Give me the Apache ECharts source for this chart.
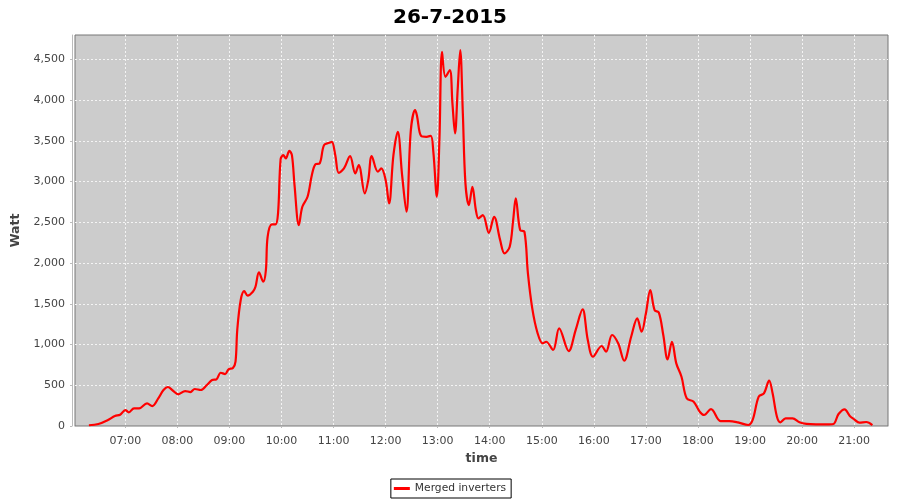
<!DOCTYPE html>
<html>
<head>
<meta charset="utf-8">
<script src="https://cdn.jsdelivr.net/npm/echarts@6/dist/echarts.min.js"></script>
<style>html,body{margin:0;padding:0;background:#fff;}#chart{width:900px;height:500px;}</style>
</head>
<body>
<div id="chart"></div>
<script>
// Reading times (HH:MM) and power (W)
const times = ["06:18","06:29","06:40","06:48","06:54","07:00","07:04","07:10","07:16","07:25","07:31","07:38","07:44","07:49","07:55","08:01","08:09","08:15","08:20","08:27","08:34","08:40","08:45","08:50","08:55","08:59","09:04","09:07","09:09","09:13","09:17","09:21","09:27","09:30","09:34","09:39","09:42","09:44","09:49","09:53","09:56","09:59","10:02","10:05","10:09","10:12","10:15","10:20","10:24","10:30","10:35","10:39","10:44","10:49","10:55","10:58","11:02","11:06","11:12","11:19","11:25","11:29","11:36","11:40","11:44","11:51","11:55","12:00","12:04","12:09","12:14","12:19","12:24","12:29","12:34","12:36","12:41","12:47","12:52","12:55","12:59","13:02","13:05","13:09","13:14","13:17","13:20","13:23","13:26","13:29","13:32","13:36","13:40","13:44","13:47","13:52","13:59","14:05","14:12","14:17","14:23","14:27","14:30","14:35","14:40","14:44","14:49","14:55","15:01","15:05","15:13","15:20","15:31","15:39","15:47","15:53","15:59","16:09","16:14","16:21","16:28","16:35","16:43","16:50","16:55","17:00","17:05","17:10","17:15","17:20","17:25","17:30","17:35","17:41","17:47","17:55","18:02","18:07","18:15","18:26","18:36","18:46","18:58","19:03","19:10","19:16","19:22","19:26","19:31","19:35","19:41","19:49","19:57","20:05","20:16","20:28","20:36","20:42","20:49","20:55","21:00","21:06","21:14","21:21"];
const watts = [9,25,74,123,139,196,168,217,217,278,245,340,442,479,433,389,429,417,454,442,503,564,573,654,638,696,712,789,1178,1546,1655,1600,1648,1709,1886,1771,1914,2323,2475,2475,2610,3276,3325,3285,3378,3325,2957,2466,2691,2814,3080,3211,3224,3448,3476,3489,3325,3108,3162,3313,3101,3203,2855,3019,3313,3121,3162,3019,2733,3325,3612,3080,2630,3624,3878,3816,3559,3550,3562,3366,2814,3510,4593,4286,4369,3960,3592,4123,4614,3837,2978,2712,2937,2651,2549,2589,2372,2569,2282,2119,2200,2528,2794,2405,2384,1874,1444,1145,1015,1034,933,1199,920,1178,1432,1055,850,982,912,1117,1015,801,1096,1321,1157,1383,1669,1423,1390,1117,818,1034,769,605,340,298,175,135,208,61,61,45,12,74,360,401,556,401,114,45,94,94,45,25,20,20,25,147,205,123,82,41,49,12];
const hourTicks = ["07:00","08:00","09:00","10:00","11:00","12:00","13:00","14:00","15:00","16:00","17:00","18:00","19:00","20:00","21:00"];
const yTicks = [0,500,1000,1500,2000,2500,3000,3500,4000,4500];
const seriesName = "Merged inverters";
const titleText = "26-7-2015";

function toMin(s){const p=s.split(":");return (+p[0])*60+(+p[1]);}
function fmtMin(m){const h=Math.floor(m/60),mm=Math.round(m%60);return (h<10?"0":"")+h+":"+(mm<10?"0":"")+mm;}
const data = times.map((t,i)=>[toMin(t), watts[i]]);
const hourVals = hourTicks.map(toMin);

const chart = echarts.init(document.getElementById('chart'), null, {renderer:'canvas'});
const font = 'DejaVu Sans';
chart.setOption({
  animation:false,
  backgroundColor:'#ffffff',
  title:{text:titleText,left:'center',top:3,textStyle:{fontFamily:font,fontWeight:'bold',fontSize:20,color:'#000'}},
  grid:{left:75,right:12,top:35,bottom:74,show:true,backgroundColor:'#cccccc',borderColor:'#777777',borderWidth:1,containLabel:false},
  legend:{
    data:[seriesName],bottom:2,left:'center',
    borderColor:'#000',borderWidth:1,padding:[4,5,4,3],
    itemWidth:16,itemHeight:3,itemGap:4,icon:'rect',
    textStyle:{fontFamily:font,fontSize:10.7,color:'#333'}
  },
  xAxis:{
    type:'value',min:362,max:1299,offset:4,
    name:'time',nameLocation:'middle',nameGap:22,
    nameTextStyle:{fontFamily:font,fontWeight:'bold',fontSize:12.5,color:'#444'},
    axisLine:{show:true,lineStyle:{color:'#bbbbbb',width:1}},
    axisTick:{show:true,length:2,customValues:hourVals,lineStyle:{color:'#bbbbbb'}},
    axisLabel:{customValues:hourVals,formatter:v=>fmtMin(v),fontFamily:font,fontSize:11,color:'#444',margin:6},
    splitLine:{show:true,lineStyle:{color:'#f4f4f4',type:[2,2],width:1}}
  },
  yAxis:{
    type:'value',min:0,max:4800,offset:3,
    name:'Watt',nameLocation:'middle',nameGap:40,
    nameTextStyle:{fontFamily:font,fontWeight:'bold',fontSize:12.5,color:'#444'},
    axisLine:{show:true,lineStyle:{color:'#bbbbbb',width:1}},
    axisTick:{show:true,length:2,customValues:yTicks,lineStyle:{color:'#bbbbbb'}},
    axisLabel:{customValues:yTicks,formatter:v=>v.toLocaleString('en-US'),fontFamily:font,fontSize:11,color:'#444',margin:7},
    splitLine:{show:true,lineStyle:{color:'#f4f4f4',type:[2,2],width:1}}
  },
  series:[{
    name:seriesName,type:'line',data:data,
    showSymbol:false,smooth:0.35,
    lineStyle:{color:'#ff0000',width:2.2},itemStyle:{color:'#ff0000'},
    z:3
  }]
});
</script>
</body>
</html>
